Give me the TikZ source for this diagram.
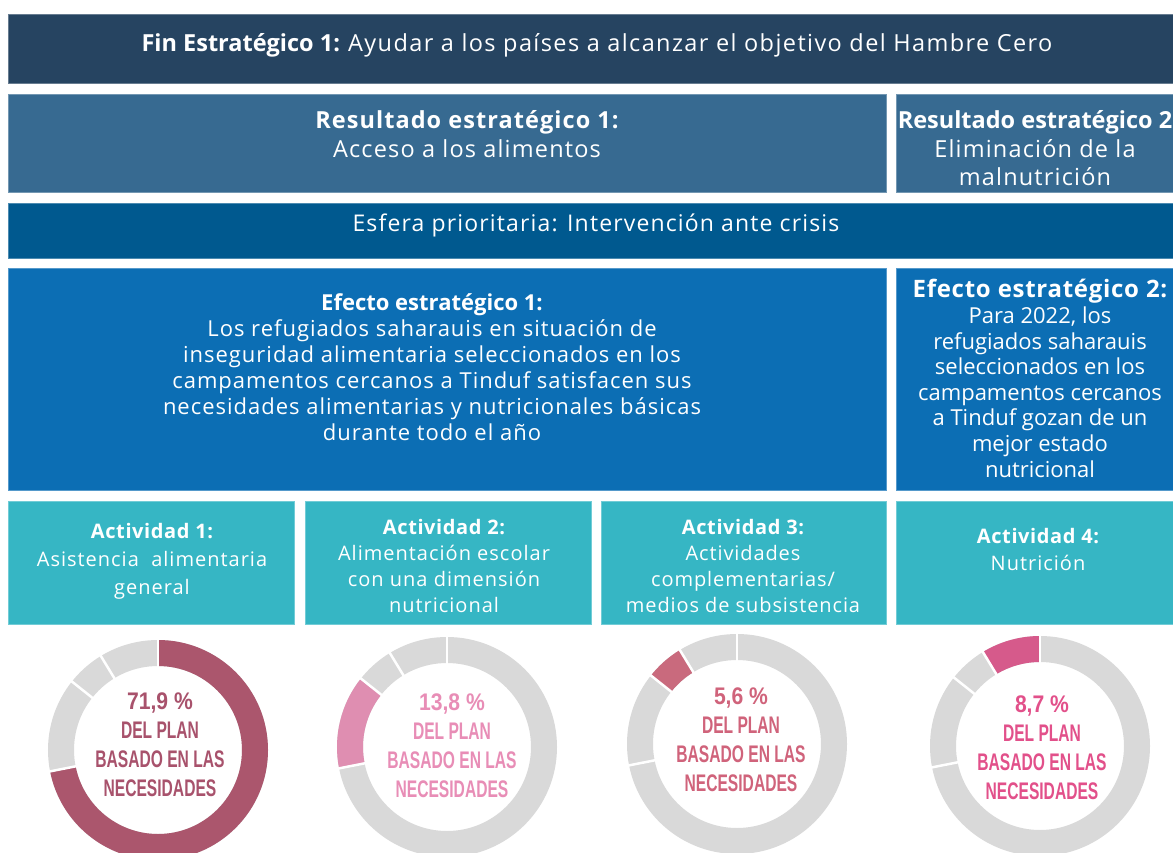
\documentclass[tikz,border=0pt]{standalone}
\usepackage{fontspec}
\setmainfont{Open Sans}
\newfontfamily\lsA[LetterSpace=3]{Open Sans}
\newfontfamily\lsD[LetterSpace=4.5]{Open Sans}
\newfontfamily\lsB[LetterSpace=5]{Open Sans}
\newfontfamily\lsC[LetterSpace=6]{Open Sans}
\newfontfamily\cond[FakeStretch=0.65]{Liberation Sans}
\newfontfamily\condw[FakeStretch=0.88]{Liberation Sans}
\definecolor{cNavy}{HTML}{264461}
\definecolor{cRes}{HTML}{376A91}
\definecolor{cEsf}{HTML}{00598F}
\definecolor{cEfe}{HTML}{0C6EB4}
\definecolor{cTeal}{HTML}{36B6C4}
\definecolor{cGrey}{HTML}{D9D9D9}
\definecolor{cDa}{HTML}{AB566D}
\definecolor{cDb}{HTML}{DF8EB1}
\definecolor{cDc}{HTML}{C96A7D}
\definecolor{cDd}{HTML}{D65A8B}
\definecolor{tDa}{HTML}{A8526C}
\definecolor{tDb}{HTML}{E88DB6}
\definecolor{tDc}{HTML}{D0637B}
\definecolor{tDd}{HTML}{E2508A}
\tikzset{
  panel/.style={draw=#1!70!white, line width=0.7pt, fill=#1, inner sep=0pt},
  txt/.style={text=white, align=center, inner sep=0pt},
  dtxt/.style={align=center, inner sep=0pt, font=\cond\bfseries\fontsize{24}{29}\selectfont},
  ring/.style={line width=26pt, line cap=butt},
  sep/.style={white, line width=2.5pt}
}
\newcommand{\donut}[4]{% name, colour, start, end (tikz angles, y flipped)
  \draw[ring, cGrey] (#1) circle[radius=97];
  \draw[ring, #2] (#1) ++(#3:97) arc[start angle=#3, end angle=#4, radius=97];
  \foreach \a in {-90,168.8,218.5,238.7}{
    \draw[sep] (#1) ++(\a:82) -- ++(\a:30);
  }
}
\newcommand{\pcttext}[1]{{\condw\bfseries #1}\\DEL PLAN\\BASADO EN LAS\\NECESIDADES}
\begin{document}
\begin{tikzpicture}[x=1pt, y=-1pt]
\useasboundingbox (0,0) rectangle (1173,852);
\fill[white] (0,0) rectangle (1173,852);
% panels
\node[panel=cNavy, minimum width=1165pt, minimum height=69pt] (fin) at (590.5,48.5) {};
\node[panel=cRes, minimum width=878pt, minimum height=98pt] (res1) at (447,143) {};
\node[panel=cRes, minimum width=277pt, minimum height=98pt] (res2) at (1034.5,143) {};
\node[panel=cEsf, minimum width=1165pt, minimum height=55pt] (esf) at (590.5,230.5) {};
\node[panel=cEfe, minimum width=878pt, minimum height=222pt] (efe1) at (447,379) {};
\node[panel=cEfe, minimum width=277pt, minimum height=222pt] (efe2) at (1034.5,379) {};
\node[panel=cTeal, minimum width=286pt, minimum height=123pt] (act1) at (151,562.5) {};
\node[panel=cTeal, minimum width=286pt, minimum height=123pt] (act2) at (448,562.5) {};
\node[panel=cTeal, minimum width=285pt, minimum height=123pt] (act3) at (743.5,562.5) {};
\node[panel=cTeal, minimum width=277pt, minimum height=123pt] (act4) at (1034.5,562.5) {};
% texts
\node[txt, font=\fontsize{23.5}{28}\selectfont] (tfin) at (597,45)
  {\textbf{Fin Estratégico 1:} {\lsC Ayudar a los países a alcanzar el objetivo del Hambre Cero}};
\node[txt, font=\fontsize{23.5}{29}\selectfont] (tres1) at (467,134.5)
  {{\lsD\bfseries Resultado estratégico 1:}\\{\lsB Acceso a los alimentos}};
\node[txt, font=\fontsize{23.5}{28.5}\selectfont] (tres2) at (1035,148.5)
  {\textbf{Resultado estratégico 2}\\{\lsB Eliminación de la}\\{\lsB malnutrición}};
\node[txt, font=\fontsize{23}{26}\selectfont] (tesf) at (596,225)
  {{\lsB Esfera prioritaria: Intervención ante crisis}};
\node[txt, font=\fontsize{22}{26}\selectfont] (tefe1) at (432,367.5)
  {\textbf{Efecto estratégico 1:}\\{\lsD Los refugiados saharauis en situación de}\\{\lsD inseguridad alimentaria seleccionados en los}\\{\lsD campamentos cercanos a Tinduf satisfacen sus}\\{\lsD necesidades alimentarias y nutricionales básicas}\\{\lsD durante todo el año}};
\node[txt, font=\fontsize{22}{25.6}\selectfont] (tefe2) at (1040,378.5)
  {{\fontsize{24}{25.6}\selectfont\lsA\bfseries Efecto estratégico 2:}\\Para 2022, los\\refugiados saharauis\\seleccionados en los\\campamentos cercanos\\a Tinduf gozan de un\\mejor estado\\nutricional};
\node[txt, font=\fontsize{20}{28}\selectfont] (tact1) at (152,561)
  {{\lsA\bfseries Actividad 1:}\\{\lsB Asistencia\ \ alimentaria}\\{\lsB general}};
\node[txt, font=\fontsize{20}{26}\selectfont] (tact2) at (444,566)
  {{\lsA\bfseries Actividad 2:}\\{\lsB Alimentación escolar}\\{\lsB con una dimensión}\\{\lsB nutricional}};
\node[txt, font=\fontsize{20}{26}\selectfont] (tact3) at (743,566)
  {{\lsA\bfseries Actividad 3:}\\{\lsD Actividades}\\{\lsD complementarias/}\\{\lsD medios de subsistencia}};
\node[txt, font=\fontsize{20}{27}\selectfont] (tact4) at (1038,549.5)
  {{\lsA\bfseries Actividad 4:}\\{\lsB Nutrición}};
% donuts
\coordinate (d1) at (158,750);
\coordinate (d2) at (447,747);
\coordinate (d3) at (737,744);
\coordinate (d4) at (1040,746);
\donut{d1}{cDa}{-90}{168.8}
\donut{d2}{cDb}{168.8}{218.5}
\donut{d3}{cDc}{218.5}{238.7}
\donut{d4}{cDd}{238.7}{270}
\node[dtxt, text=tDa] (p1) at (160,745) {\pcttext{71,9 \%}};
\node[dtxt, text=tDb] (p2) at (452,746) {\pcttext{13,8 \%}};
\node[dtxt, text=tDc] (p3) at (741,740) {\pcttext{5,6 \%}};
\node[dtxt, text=tDd] (p4) at (1042,747.5) {\pcttext{8,7 \%}};
\end{tikzpicture}
\end{document}
